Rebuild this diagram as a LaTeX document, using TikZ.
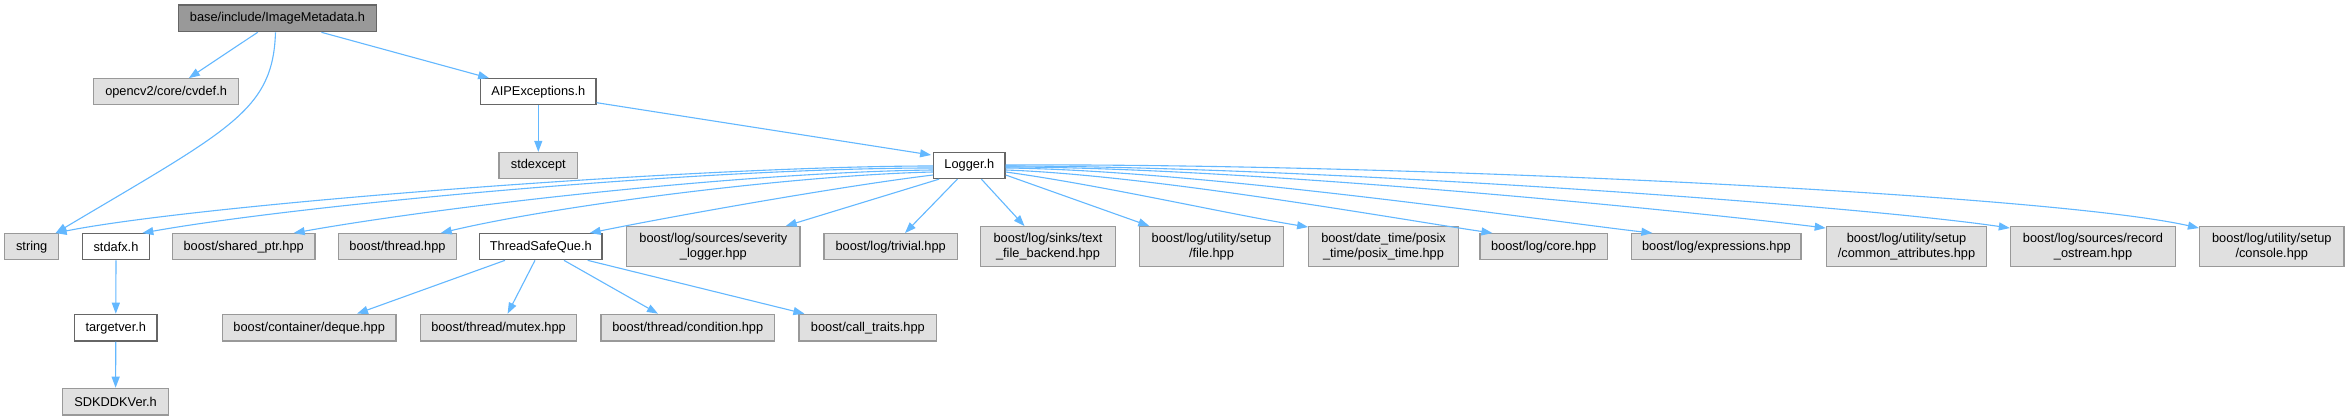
\documentclass[tikz,border=0pt]{standalone}
\usepackage{fontspec}
\setmainfont{Liberation Sans}
\usetikzlibrary{arrows.meta}
\definecolor{edgeblue}{HTML}{63B8FF}
\definecolor{grayfill}{HTML}{E0E0E0}
\definecolor{grayline}{HTML}{999999}
\definecolor{darkline}{HTML}{666666}
\definecolor{rootfill}{HTML}{999999}
\begin{document}
\begin{tikzpicture}[x=1pt,y=1pt,
 box/.style={draw, line width=1.3pt, inner sep=0pt, align=center, font=\fontsize{12.8}{15}\selectfont, minimum height=26pt},
 ext/.style={box, fill=grayfill, draw=grayline},
 loc/.style={box, fill=white, draw=darkline},
 root/.style={box, fill=rootfill, draw=darkline},
 tall/.style={minimum height=40pt},
 conn/.style={draw=edgeblue, line width=1.1pt, -{Triangle[length=11pt,width=8pt]}}]
\useasboundingbox[fill=white] (0,0) rectangle (2350,420);

% rows
\node[root, minimum width=198.4pt, minimum height=26.7pt] (img) at (277.5,401.7) {base/include/ImageMetadata.h};
\node[ext, minimum width=145.4pt] (cvdef) at (166.1,328.2) {opencv2/core/cvdef.h};
\node[loc, minimum width=115.4pt] (aip) at (538.3,328.2) {AIPExceptions.h};
\node[ext, minimum width=78.6pt] (stdexcept) at (538.3,254.5) {stdexcept};
\node[loc, minimum width=71.3pt] (logger) at (969.4,254.5) {Logger.h};

\node[ext, minimum width=54pt] (string) at (31.7,173.3) {string};
\node[loc, minimum width=66.6pt] (stdafx) at (116,173.3) {stdafx.h};
\node[ext, minimum width=142.7pt] (sharedptr) at (243.7,173.3) {boost/shared\_ptr.hpp};
\node[ext, minimum width=118.3pt] (thread) at (397.5,173.3) {boost/thread.hpp};
\node[loc, minimum width=122.4pt] (tsq) at (540.8,173.3) {ThreadSafeQue.h};
\node[ext, tall, minimum width=173.3pt] (severity) at (713.4,173.3) {boost/log/sources/severity\\\_logger.hpp};
\node[ext, minimum width=133.3pt] (trivial) at (890.7,173.3) {boost/log/trivial.hpp};
\node[ext, tall, minimum width=134.7pt] (textfile) at (1048,173.3) {boost/log/sinks/text\\\_file\_backend.hpp};
\node[ext, tall, minimum width=144.4pt] (file) at (1211.5,173.3) {boost/log/utility/setup\\/file.hpp};
\node[ext, tall, minimum width=149.5pt] (posix) at (1383.5,173.3) {boost/date\_time/posix\\\_time/posix\_time.hpp};
\node[ext, minimum width=127.3pt] (core) at (1543.7,173.3) {boost/log/core.hpp};
\node[ext, minimum width=169.3pt] (expr) at (1716.4,173.3) {boost/log/expressions.hpp};
\node[ext, tall, minimum width=160.3pt] (common) at (1906.5,173.3) {boost/log/utility/setup\\/common\_attributes.hpp};
\node[ext, tall, minimum width=165.1pt] (record) at (2093,173.3) {boost/log/sources/record\\\_ostream.hpp};
\node[ext, tall, minimum width=144.5pt] (console) at (2271.8,173.3) {boost/log/utility/setup\\/console.hpp};

\node[loc, minimum width=82.5pt, minimum height=26.7pt] (targetver) at (115.8,92.3) {targetver.h};
\node[ext, minimum width=173.6pt, minimum height=26.7pt] (deque) at (309.2,92.3) {boost/container/deque.hpp};
\node[ext, minimum width=156.1pt, minimum height=26.7pt] (mutex) at (498.5,92.3) {boost/thread/mutex.hpp};
\node[ext, minimum width=173.5pt, minimum height=26.7pt] (condition) at (687.8,92.3) {boost/thread/condition.hpp};
\node[ext, minimum width=137.7pt, minimum height=26.7pt] (calltraits) at (867.9,92.3) {boost/call\_traits.hpp};
\node[ext, minimum width=105.6pt, minimum height=26.7pt] (sdk) at (115.6,18.3) {SDKDDKVer.h};

% edges from ImageMetadata
\draw[conn] ([xshift=-19.8pt]img.south) -- ([xshift=22.7pt]cvdef.north);
\draw[conn] ([xshift=43.9pt]img.south) -- ([xshift=9.2pt]aip.north west);
\draw[conn] ([xshift=-2pt]img.south) .. controls +(-2.5,-78.3) and +(175,104) .. ([xshift=-3.7pt]string.north east);

% edges from AIPExceptions
\draw[conn] (aip.south) -- (stdexcept.north);
\draw[conn] ([yshift=-10.9pt]aip.east) -- ([xshift=-2pt,yshift=10.5pt]logger.west);

% edges from Logger (left)
\draw[conn] ([yshift=-0.5pt]logger.west) .. controls +(-233.7,0) and +(145,29) .. ([xshift=-3.7pt]string.north east);
\draw[conn] ([yshift=-2.5pt]logger.west) .. controls +(-233.7,0) and +(158.3,28.3) .. ([xshift=-7.6pt]stdafx.north east);
\draw[conn] ([yshift=-4.5pt]logger.west) .. controls +(-183.7,-2) and +(157,28) .. ([xshift=-22pt]sharedptr.north east);
\draw[conn] ([yshift=-6.5pt]logger.west) .. controls +(-133.7,-3) and +(120,28.5) .. ([xshift=-16.6pt]thread.north east);
\draw[conn] ([yshift=-9.5pt]logger.west) .. controls +(-83.7,-10) and +(91,18.5) .. ([xshift=-13pt]tsq.north east);
\draw[conn] ([xshift=6pt]logger.south west) -- ([xshift=-15pt]severity.north east);
\draw[conn] ([xshift=-12pt]logger.south) -- ([xshift=14.3pt]trivial.north);
\draw[conn] ([xshift=12pt]logger.south) -- ([xshift=-23.5pt]textfile.north);
% edges from Logger (right)
\draw[conn] ([yshift=-9.5pt]logger.east) -- ([xshift=10.7pt]file.north west);
\draw[conn] ([yshift=-6.5pt]logger.east) .. controls +(95,-13) and +(-80,13) .. ([yshift=-1pt]posix.north west);
\draw[conn] ([yshift=-4.5pt]logger.east) .. controls +(145,-5) and +(-93,13.7) .. ([xshift=13pt]core.north west);
\draw[conn] ([yshift=-2.5pt]logger.east) .. controls +(195,-2) and +(-103,11.7) .. ([xshift=21.3pt]expr.north west);
\draw[conn] ([yshift=-1.5pt]logger.east) .. controls +(245,0) and +(-126,15.7) .. ([yshift=-2pt]common.north west);
\draw[conn] ([yshift=-0.5pt]logger.east) .. controls +(295,0) and +(-160.5,23.7) .. ([yshift=-2pt]record.north west);
\draw[conn] ([yshift=0.5pt]logger.east) .. controls +(395,2) and +(-149.5,33.7) .. ([yshift=-2pt]console.north west);

% stdafx chain
\draw[conn] (stdafx.south) -- (targetver.north);
\draw[conn] (targetver.south) -- (sdk.north);

% ThreadSafeQue
\draw[conn] ([xshift=-35.8pt]tsq.south) -- ([xshift=47.8pt]deque.north);
\draw[conn] ([xshift=-5.8pt]tsq.south) -- ([xshift=9.1pt]mutex.north);
\draw[conn] ([xshift=23.2pt]tsq.south) -- ([xshift=-29.8pt]condition.north);
\draw[conn] ([xshift=-15pt]tsq.south east) -- ([xshift=6pt]calltraits.north west);
\end{tikzpicture}
\end{document}
